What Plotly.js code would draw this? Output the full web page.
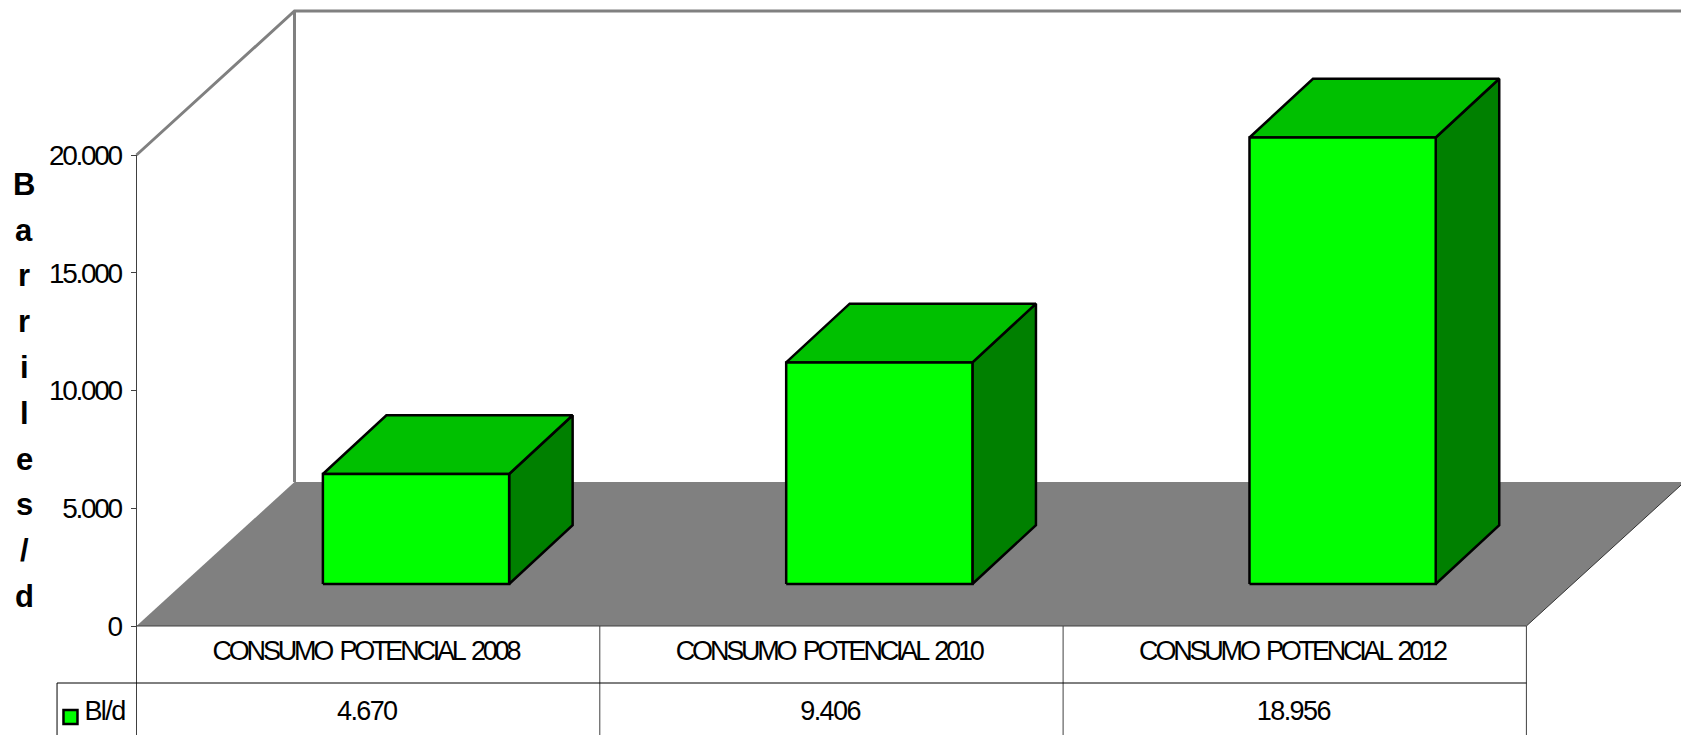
<!DOCTYPE html>
<html>
<head>
<meta charset="utf-8">
<script src="https://cdn.plot.ly/plotly-3.0.1.min.js"></script>
<style>
html,body{margin:0;padding:0;background:#fff;overflow:hidden}
#chart{width:1681px;height:735px}
#chart .ytick text{letter-spacing:-2.3px}
</style>
</head>
<body>
<div id="chart"></div>
<script>
const categories = ["CONSUMO POTENCIAL 2008", "CONSUMO POTENCIAL 2010", "CONSUMO POTENCIAL 2012"];
const values = [4670, 9406, 18956];
const valueLabels = ["4.670", "9.406", "18.956"];
const seriesName = "Bl/d";
const tickVals = [0, 5000, 10000, 15000, 20000];
const tickText = ["0", "5.000", "10.000", "15.000", "20.000"];
const titleLetters = ["B", "a", "r", "r", "i", "l", "e", "s", "/", "d"];

const FONT = '"Liberation Sans", Arial, sans-serif';
const depthX = 0.341, depthY = 6115;     // projected depth of the floor, in axis units
const barW = 0.402, front = 0.3, frontY = 0.292, back = 0.702; // bar width and depth span
const nCat = categories.length;
const topV = 20000;
const catPx = 463.3, axisPx = 136.5, pageW = 1681;
const xRange = [-axisPx / catPx, (pageW - axisPx) / catPx];
const yRange = [-4628, 26582];
const rowLabel = -1146, rowLine = -2420, rowValue = -3694, swatchRow = -3860, tableLeft = -0.1715, tableBottom = yRange[0];

function poly(xs, ys, fill, lineColor, lineWidth) {
  return {type:'scatter', mode:'lines', x:[...xs, xs[0]], y:[...ys, ys[0]], fill:'toself', fillcolor:fill,
          line:{color:lineColor, width:lineWidth}, hoverinfo:'skip', showlegend:false};
}
function seg(xs, ys, color, width) {
  return {type:'scatter', mode:'lines', x:xs, y:ys, line:{color:color, width:width}, hoverinfo:'skip', showlegend:false};
}
const traces = [];
// floor and walls
traces.push(poly([0, depthX, nCat + depthX, nCat], [0, depthY, depthY, 0], '#808080', 'rgba(128,128,128,0)', 0));
traces.push(seg([nCat, nCat + depthX], [0, depthY], '#333333', 1));
traces.push(seg([0, depthX, xRange[1]], [topV, topV + depthY, topV + depthY], '#808080', 3));
traces.push(seg([depthX, depthX], [topV + depthY, depthY], '#808080', 3));
// table
traces.push(seg([0, 0], [topV, tableBottom], '#404040', 1));
traces.push(seg([0, nCat], [0, 0], '#404040', 1));
for (let i = 1; i <= nCat; i++) traces.push(seg([i, i], [0, tableBottom], '#404040', 1));
traces.push(seg([tableLeft, nCat], [rowLine, rowLine], '#000000', 1));
traces.push(seg([tableLeft, tableLeft], [rowLine, tableBottom], '#000000', 1));
// bars
values.forEach((v, i) => {
  const x0 = i + 0.5 - 0.2, x1 = x0 + barW;
  const fx = front * depthX, bx = back * depthX, fy = frontY * depthY, by = 0.7 * depthY;
  traces.push(poly([x1+fx, x1+bx, x1+bx, x1+fx], [fy, by, by+v, fy+v], '#008000', '#000000', 2.5));
  traces.push(poly([x0+fx, x1+fx, x1+bx, x0+bx], [fy+v, fy+v, by+v, by+v], '#00C000', '#000000', 2.5));
  traces.push(poly([x0+fx, x1+fx, x1+fx, x0+fx], [fy, fy, fy+v, fy+v], '#00FF00', '#000000', 2.5));
});
// table text
const labelCenters = categories.map((_, i) => i + 0.494);
const valueCenters = categories.map((_, i) => i + 0.497);
const textFont = {family:FONT, size:27, color:'#000'};
traces.push({type:'scatter', mode:'text', x:labelCenters, y:labelCenters.map(()=>rowLabel), text:categories, textposition:'middle center', textfont:textFont, hoverinfo:'skip', showlegend:false});
traces.push({type:'scatter', mode:'text', x:valueCenters, y:valueCenters.map(()=>rowValue), text:valueLabels, textposition:'middle center', textfont:textFont, hoverinfo:'skip', showlegend:false});
traces.push({type:'scatter', mode:'markers', x:[-0.1425], y:[swatchRow], marker:{symbol:'square', size:14, color:'#00FF00', line:{color:'#000', width:2.5}}, hoverinfo:'skip', showlegend:false});
traces.push({type:'scatter', mode:'text', x:[-0.069], y:[rowValue], text:[seriesName], textposition:'middle center', textfont:textFont, hoverinfo:'skip', showlegend:false});

const annotations = titleLetters.map((ch, i) => ({
  text:'<b>'+ch+'</b>', xref:'paper', yref:'y', x:24/pageW, xanchor:'center', yanchor:'middle',
  y: 18760 - i * 1945, showarrow:false, font:{family:FONT, size:31, color:'#000'}
}));

Plotly.newPlot('chart', traces, {
  width:pageW, height:735, margin:{l:0, r:0, t:0, b:0, pad:0, autoexpand:false},
  paper_bgcolor:'#fff', plot_bgcolor:'#fff', showlegend:false, annotations,
  xaxis:{range:xRange, visible:false, fixedrange:true},
  yaxis:{range:yRange, anchor:'free', position:axisPx/pageW, tickmode:'array', tickvals:tickVals, ticktext:tickText, ticks:'outside', ticklen:6, tickcolor:'#404040', tickwidth:1,
         showgrid:false, zeroline:false, showline:false, automargin:false, ticklabelstandoff:4, tickfont:{family:FONT, size:28, color:'#000'}, fixedrange:true}
}, {displayModeBar:false, staticPlot:true}).then(gd => {
  gd.querySelectorAll('.textpoint text').forEach(t => {
    const s = t.textContent;
    if (categories.includes(s)) { t.style.letterSpacing = '-3.2px'; t.style.wordSpacing = '4px'; }
    else t.style.letterSpacing = '-1.6px';
  });
});
</script>
</body>
</html>
